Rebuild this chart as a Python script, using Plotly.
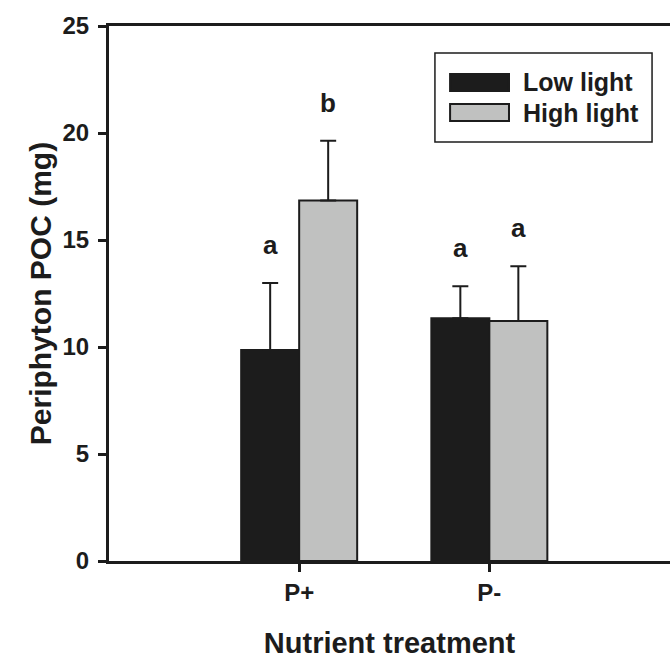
import plotly.graph_objects as go

categories = ["P+", "P-"]
series_names = ["Low light", "High light"]
low_light = [9.86, 11.34]
high_light = [16.84, 11.21]
low_err = [3.13, 1.50]
high_err = [2.80, 2.56]
low_letters = ["a", "a"]
high_letters = ["b", "a"]
y_ticks = [0, 5, 10, 15, 20, 25]

DARK = "#1c1c1c"
GREY = "#c0c1c0"
FONT = "Liberation Sans, Arial, sans-serif"

fig = go.Figure()
for name, vals, errs, color in [
    (series_names[0], low_light, low_err, DARK),
    (series_names[1], high_light, high_err, GREY),
]:
    fig.add_trace(go.Bar(
        x=categories, y=vals, name=name,
        marker=dict(color=color, line=dict(color=DARK, width=2)),
        error_y=dict(type="data", array=errs, arrayminus=[0] * len(errs),
                     symmetric=False, color=DARK, thickness=2, width=8),
        showlegend=False,
    ))

bar_w = (1 - 0.39) / 2
annos = []
for i, cat in enumerate(categories):
    for off, vals, errs, letters in [
        (-bar_w / 2, low_light, low_err, low_letters),
        (bar_w / 2, high_light, high_err, high_letters),
    ]:
        annos.append(dict(x=i + off, y=vals[i] + errs[i], xref="x", yref="y",
                          text=letters[i], showarrow=False, yshift=21,
                          font=dict(family=FONT, size=26, color=DARK, weight="bold"),
                          yanchor="bottom", xanchor="center"))

# custom legend
shapes = [
    dict(type="rect", xref="paper", yref="paper", x0=0.581, x1=0.968, y0=0.783, y1=0.9495,
         line=dict(color=DARK, width=1.5), fillcolor="white", layer="above"),
    dict(type="rect", xref="paper", yref="paper", x0=0.608, x1=0.713, y0=0.8785, y1=0.9103,
         line=dict(color=DARK, width=2), fillcolor=DARK, layer="above"),
    dict(type="rect", xref="paper", yref="paper", x0=0.608, x1=0.713, y0=0.8224, y1=0.8542,
         line=dict(color=DARK, width=2), fillcolor=GREY, layer="above"),
]
for name, yc in zip(series_names, [0.8944, 0.8383]):
    annos.append(dict(x=0.735, y=yc, xref="paper", yref="paper", text=name, showarrow=False,
                      xanchor="left", yanchor="middle",
                      font=dict(family=FONT, size=25, color=DARK, weight="bold")))

fig.update_layout(
    width=670, height=659,
    margin=dict(l=109, r=0, t=26, b=98),
    paper_bgcolor="white", plot_bgcolor="white",
    barmode="group", bargap=0.39, bargroupgap=0,
    annotations=annos, shapes=shapes,
    font=dict(family=FONT, color=DARK),
    xaxis=dict(
        type="category", range=[-1, 1.95],
        showline=True, linecolor=DARK, linewidth=3, mirror=True,
        ticks="outside", ticklen=8, tickwidth=3, tickcolor=DARK,
        tickfont=dict(family=FONT, size=24, color=DARK, weight="bold"),
        showgrid=False, zeroline=False,
        title=dict(text="Nutrient treatment", standoff=29,
                   font=dict(family=FONT, size=29, color=DARK, weight="bold")),
    ),
    yaxis=dict(
        range=[0, 25], tickvals=y_ticks,
        showline=True, linecolor=DARK, linewidth=3,
        ticks="outside", ticklen=8, tickwidth=3, tickcolor=DARK,
        ticklabelstandoff=4,
        tickfont=dict(family=FONT, size=24, color=DARK, weight="bold"),
        showgrid=False, zeroline=False,
        title=dict(text="Periphyton POC (mg)", standoff=2,
                   font=dict(family=FONT, size=30, color=DARK, weight="bold")),
    ),
)

fig.write_html("out.html")
